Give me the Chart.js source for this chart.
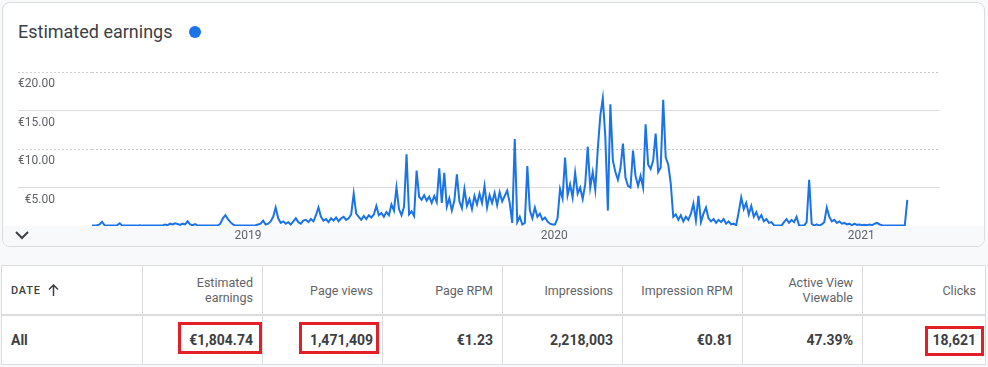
<!DOCTYPE html>
<html>
<head>
<meta charset="utf-8">
<script src="https://cdn.jsdelivr.net/npm/chart.js@4/dist/chart.umd.min.js"></script>
<style>
  html, body { margin: 0; padding: 0; }
  body { width: 988px; height: 367px; background: #f8f9fa; position: relative; overflow: hidden; font-family: Roboto, Arial, sans-serif; }
  .card { position: absolute; left: 2px; top: 2px; width: 981px; height: 243px; background: #fff; border: 1px solid #dadce0; border-radius: 8px; overflow: hidden; }
  .band { position: absolute; left: 0; right: 0; top: 223px; bottom: 0; background: #f8f9fa; }
  .title { position: absolute; left: 18px; top: 20px; font-size: 18px; color: #3c4043; line-height: 24px; }
  .dot { position: absolute; left: 189px; top: 26px; width: 12px; height: 12px; border-radius: 50%; background: #1a73e8; }
  .chev { position: absolute; left: 14px; top: 229px; }
  #wrap { position: absolute; left: 0; top: 0; width: 988px; height: 250px; }
  table { position: absolute; left: 1px; top: 265px; width: 984px; border-collapse: collapse; table-layout: fixed; background: #fff; }
  th, td { border: 1px solid #dadce0; padding: 0 9px; text-align: right; }
  th { height: 48px; font-size: 12.5px; font-weight: 400; color: #5f6368; line-height: 15px; border-bottom: 2px solid #dadce0; }
  th.date { text-align: left; font-size: 11px; font-weight: 500; letter-spacing: 0.8px; color: #3c4043; }
  th.date svg { margin-left: 7px; vertical-align: -2px; }
  td { height: 48px; font-size: 14px; font-weight: 700; color: #3c4043; }
  td.all { text-align: left; }
  .mark { position: absolute; border: 3px solid #e41e26; box-sizing: border-box; }
</style>
</head>
<body>
<div class="card"><div class="band"></div></div>
<div class="title">Estimated earnings</div>
<div class="dot"></div>
<svg class="chev" width="16" height="12"><polyline points="2,3 8,9 14,3" fill="none" stroke="#3c4043" stroke-width="2"/></svg>
<div id="wrap"><canvas id="chart"></canvas></div>

<table>
  <colgroup>
    <col style="width:141px"><col style="width:120px"><col style="width:120px"><col style="width:120px">
    <col style="width:120px"><col style="width:120px"><col style="width:120px"><col style="width:123px">
  </colgroup>
  <tr>
    <th class="date">DATE<svg width="11" height="12"><path d="M5.5 1 V12 M1 5.5 L5.5 1 L10 5.5" fill="none" stroke="#3c4043" stroke-width="1.5"/></svg></th>
    <th>Estimated<br>earnings</th>
    <th>Page views</th>
    <th>Page RPM</th>
    <th>Impressions</th>
    <th>Impression RPM</th>
    <th>Active View<br>Viewable</th>
    <th>Clicks</th>
  </tr>
  <tr>
    <td class="all">All</td>
    <td>€1,804.74</td>
    <td>1,471,409</td>
    <td>€1.23</td>
    <td>2,218,003</td>
    <td>€0.81</td>
    <td>47.39%</td>
    <td>18,621</td>
  </tr>
</table>
<div class="mark" style="left:178px;top:322px;width:84px;height:32px"></div>
<div class="mark" style="left:299px;top:322px;width:80px;height:32px"></div>
<div class="mark" style="left:925px;top:326px;width:59px;height:30px"></div>

<script>
// Daily earnings (EUR), one value every 3 days; day 0 = 1 Jan 2019
const stepDays = 3;

const start2018 = -186;
const earnings2018 = [0.05,0.05,0.1,0.2,0.55,0.1,0.05,0.05,0.05,0.05,0.1,0.35,
  0.05,0.05,0.05,0.05,0.05,0.05,0.05,0.1,0.05,0.05,0.05,0.05,0.05,0.05,0.05,0.05,0.05,
  0.2,0.1,0.3,0.2,0.35,0.25,0.15,0.3,0.2,0.6,0.2,0.1,0.25,
  0.05,0.05,0.05,0.05,0.05,0.05,0.05,0.05,0.05,
  0.3,1.0,1.4,0.9,0.5,0.2,0.05,0.05,0.05,0.05,0.05];

const start2019 = 0;
const earnings2019 = [0.05,0.05,0.05,0.1,0.2,0.3,0.7,0.2,0.3,0.6,
  1.2,2.4,1.0,0.4,0.6,0.3,0.5,0.2,0.6,1.0,
  0.5,0.3,0.7,0.8,0.5,0.9,0.6,1.4,2.4,1.2,
  0.7,0.9,0.5,1.0,0.7,1.1,0.6,1.0,1.2,0.8,
  1.0,1.5,4.2,1.6,1.2,0.8,1.3,0.9,1.4,1.1,
  1.5,2.6,1.4,1.7,1.2,1.8,1.4,2.8,2.0,5.0,
  2.2,1.4,2.5,9.3,1.5,1.9,1.3,7.2,3.8,3.4,
  4.0,3.3,3.8,3.0,3.9,3.1,7.5,3.0,6.9,2.5,
  3.6,2.0,3.3,6.7,3.2,2.3,4.8,2.6,3.5,2.2,
  3.9,2.8,4.2,3.0,5.2,2.4,4.0,3.0,4.3,2.7,
  4.4,3.2,3.9,4.6,3.0,0.4,11.3,0.5,1.2,0.2,
  0.4,7.8,2.0,1.0,2.4,1.2,1.6,0.8,1.1,0.6,
  0.3,0.2];

const start2020 = 366;
const earnings2020 = [0.2,1.0,4.8,3.6,8.9,4.0,5.4,3.7,6.9,4.2,
  5.0,3.5,5.4,10.3,5.0,7.0,4.7,10.0,14.3,16.6,
  11.5,2.0,15.8,8.5,7.0,6.0,7.5,10.7,6.3,5.2,
  5.0,9.8,6.5,5.2,6.5,5.0,13.2,8.0,7.4,8.5,
  12.0,7.0,7.6,16.4,8.9,8.0,5.5,1.2,1.5,0.8,
  1.4,0.6,1.2,0.8,1.6,2.9,0.7,3.9,0.5,1.6,
  2.4,1.0,0.6,0.9,0.4,0.8,0.5,0.9,0.3,0.6,
  0.2,0.3,0.1,1.8,3.7,2.2,3.0,1.5,2.6,1.2,
  1.8,0.9,1.4,0.6,0.9,0.4,0.5,0.1,0.05,0.05,
  0.05,0.5,0.9,0.4,0.8,0.5,1.2,0.05,0.05,0.05,
  0.5,6.0,0.3,0.05,0.2,0.05,0.2,0.5,2.4,1.2,
  0.6,0.8,0.4,0.6,0.3,0.4,0.2,0.3,0.1,0.3,
  0.15,0.2];

const start2021 = 732;
const earnings2021 = [0.1,0.15,0.1,0.2,0.1,0.3,0.4,0.2,0.1,0.05,
  0.05,0.05,0.05,0.05,0.05,0.05,0.05,0.05,3.4];

const yearTicks = [0, 365, 731];
const yearLabels = ['2019', '2020', '2021'];
const yTicks = [0, 5, 10, 15, 20];

function toPoints(startDay, values) {
    return values.map((v, i) => ({ x: startDay + i * stepDays, y: v }));
}

const points = [].concat(
    toPoints(start2018, earnings2018),
    toPoints(start2019, earnings2019),
    toPoints(start2020, earnings2020),
    toPoints(start2021, earnings2021)
);

function isDotted(ctx) {
    return ctx.tick && (ctx.tick.value === 20 || ctx.tick.value === 10);
}

Chart.defaults.font.family = 'Roboto';
Chart.defaults.font.size = 12;
Chart.defaults.color = '#5f6368';

const ctx = document.getElementById('chart').getContext('2d');
const chart = new Chart(ctx, {
    type: 'line',
    data: {
        datasets: [{
            label: 'Estimated earnings',
            data: points,
            borderColor: '#1a73e8',
            borderWidth: 2,
            pointRadius: 0,
            tension: 0,
            fill: false
        }]
    },
    options: {
        responsive: true,
        maintainAspectRatio: false,
        animation: false,
        layout: { padding: { left: 18, right: 48, top: 72, bottom: 2 } },
        plugins: {
            legend: { display: false },
            tooltip: { enabled: false }
        },
        scales: {
            x: {
                type: 'linear',
                min: -186,
                max: 825,
                afterBuildTicks: (scale) => { scale.ticks = yearTicks.map(v => ({ value: v })); },
                afterFit: (scale) => { scale.height = 22; },
                grid: { display: false, drawTicks: false },
                border: { display: false },
                ticks: {
                    autoSkip: false,
                    maxRotation: 0,
                    padding: 3,
                    callback: (v) => yearLabels[yearTicks.indexOf(v)]
                }
            },
            y: {
                min: 0,
                max: 20,
                afterBuildTicks: (scale) => { scale.ticks = yTicks.map(v => ({ value: v })); },
                afterFit: (scale) => { scale.width = 74; },
                grid: {
                    drawTicks: true,
                    tickLength: 74,
                    color: (c) => c.tick.value === 0 ? 'rgba(0,0,0,0)' : (isDotted(c) ? '#c4c7cb' : '#dadce0'),
                    tickColor: (c) => c.tick.value === 0 ? 'rgba(0,0,0,0)' : (isDotted(c) ? '#d0d3d6' : '#dadce0'),
                    tickBorderDash: (c) => isDotted(c) ? [2, 2] : []
                },
                border: {
                    display: false,
                    dash: (c) => isDotted(c) ? [2, 2] : []
                },
                ticks: {
                    padding: -37,
                    labelOffset: 12,
                    callback: (v) => v === 0 ? '' : '€' + v.toFixed(2)
                }
            }
        }
    }
});
</script>
</body>
</html>
